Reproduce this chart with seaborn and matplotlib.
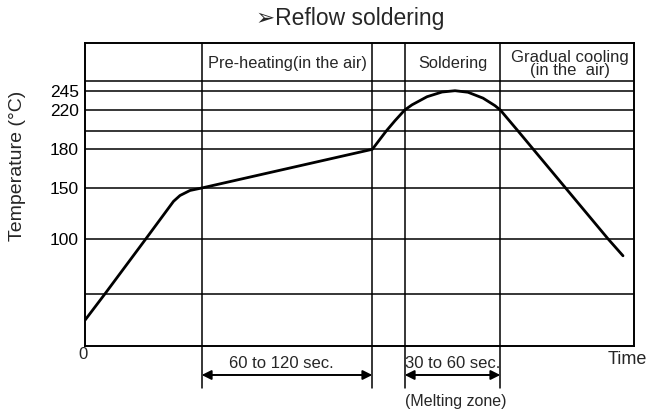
import numpy as np
import pandas as pd
import matplotlib
matplotlib.use("Agg")
import matplotlib.pyplot as plt
import matplotlib.transforms as mtransforms
from matplotlib.scale import FuncScale
import seaborn as sns

# reflow profile (time in schematic units, temperature in deg C)
profile_time = [0, 19.6, 60.5, 88.5, 95, 105, 116.7, 287.3, 301, 310, 319.7, 327, 342,
                357, 370, 383, 398, 410, 415.3, 433.3, 448.3, 480.6, 523.4, 538]
profile_temp = [25, 50, 100, 137, 142.7, 147.6, 150, 180, 200, 210, 220, 226.7, 237.2,
                243.3, 245, 243, 235.4, 225.6, 220, 200, 180, 150, 100, 85]

# horizontal guide lines (deg C) and the labelled ones
guide_temps = [50, 100, 150, 180, 200, 220, 245, 255]
tick_temps = [100, 150, 180, 220, 245]
tick_labels = ["100", "150", "180", "220", "245"]

# zone boundaries on the time axis
zone_bounds = [116.7, 287.3, 319.7, 415.3]
zone_titles = ["Pre-heating(in the air)", "Soldering", "Gradual cooling\n(in the  air)"]
zone_spans = [(116.7, 287.3), (319.7, 415.3), (415.3, 549)]
durations = ["60 to 120 sec.", "30 to 60 sec."]
duration_spans = [(116.7, 287.3), (319.7, 415.3)]

# the drawing's temperature axis is schematic, not linear
scale_temp = [0, 50, 100, 150, 180, 200, 220, 245, 255, 300]
scale_height = [0, 51.7, 106.7, 158, 196.7, 214.7, 236, 255.3, 265.3, 303]

sns.set_style("white")
plt.rcParams['font.family'] = ['Liberation Sans', 'DejaVu Sans']

df = pd.DataFrame({'time': profile_time, 'temp': profile_temp})

fig = plt.figure(figsize=(6.48, 4.12), dpi=100)
ax = fig.add_axes([0.1312, 0.1602, 0.8472, 0.7354])

ax.set_yscale(FuncScale(ax.yaxis, (lambda t: np.interp(t, scale_temp, scale_height),
                                   lambda h: np.interp(h, scale_height, scale_temp))))

for t in guide_temps:
    ax.axhline(t, color='black', lw=1.1, zorder=1)
for b in zone_bounds:
    ax.axvline(b, ymin=-0.139, ymax=1, color='black', lw=1.1, clip_on=False, zorder=1)

sns.lineplot(data=df, x='time', y='temp', color='black', lw=2.0, sort=False,
             estimator=None, ax=ax, zorder=3)

ax.set_xlim(0, 549)
ax.set_ylim(0, 300)
ax.set_xticks([])
ax.set_yticks(tick_temps)
ax.set_yticklabels(tick_labels)
ax.tick_params(axis='y', length=2.5, width=1, pad=2, labelsize=12.5, colors='black')
ax.set_xlabel('')
ax.set_ylabel('')
for s in ax.spines.values():
    s.set_color('black')
    s.set_linewidth(1.4)

trans = mtransforms.blended_transform_factory(ax.transData, ax.transAxes)
for title, (x0, x1) in zip(zone_titles, zone_spans):
    two_lines = '\n' in title
    ax.text((x0 + x1) / 2 + (3 if two_lines else 0), 0.932, title, transform=trans,
            ha='center', va='center', fontsize=12 if two_lines else 11.8,
            linespacing=0.82)

for label, (x0, x1) in zip(durations, duration_spans):
    ax.annotate('', xy=(x1, -0.0957), xytext=(x0, -0.0957), xycoords=trans,
                textcoords=trans, annotation_clip=False,
                arrowprops=dict(arrowstyle='<|-|>', color='black', lw=1.4,
                                shrinkA=0, shrinkB=0, mutation_scale=14))
    ax.text((x0 + x1) / 2 - (6 if x0 < 200 else 0), -0.058, label, transform=trans,
            ha='center', va='center', fontsize=12, clip_on=False)

ax.text(370.8, -0.184, '(Melting zone)', transform=trans, ha='center', va='center',
        fontsize=11.5, clip_on=False)
ax.text(-2, -0.027, '0', transform=trans, ha='center', va='center', fontsize=12)
ax.text(542, -0.045, 'Time', transform=trans, ha='center', va='center', fontsize=13)

fig.text(18 / 648, 1 - 166 / 412, 'Temperature (°C)', rotation=90, ha='center',
         va='center', fontsize=14)
fig.text(0.541, 0.955, '➢Reflow soldering', ha='center', va='center', fontsize=16.5)

fig.savefig('out.png', dpi=100)
